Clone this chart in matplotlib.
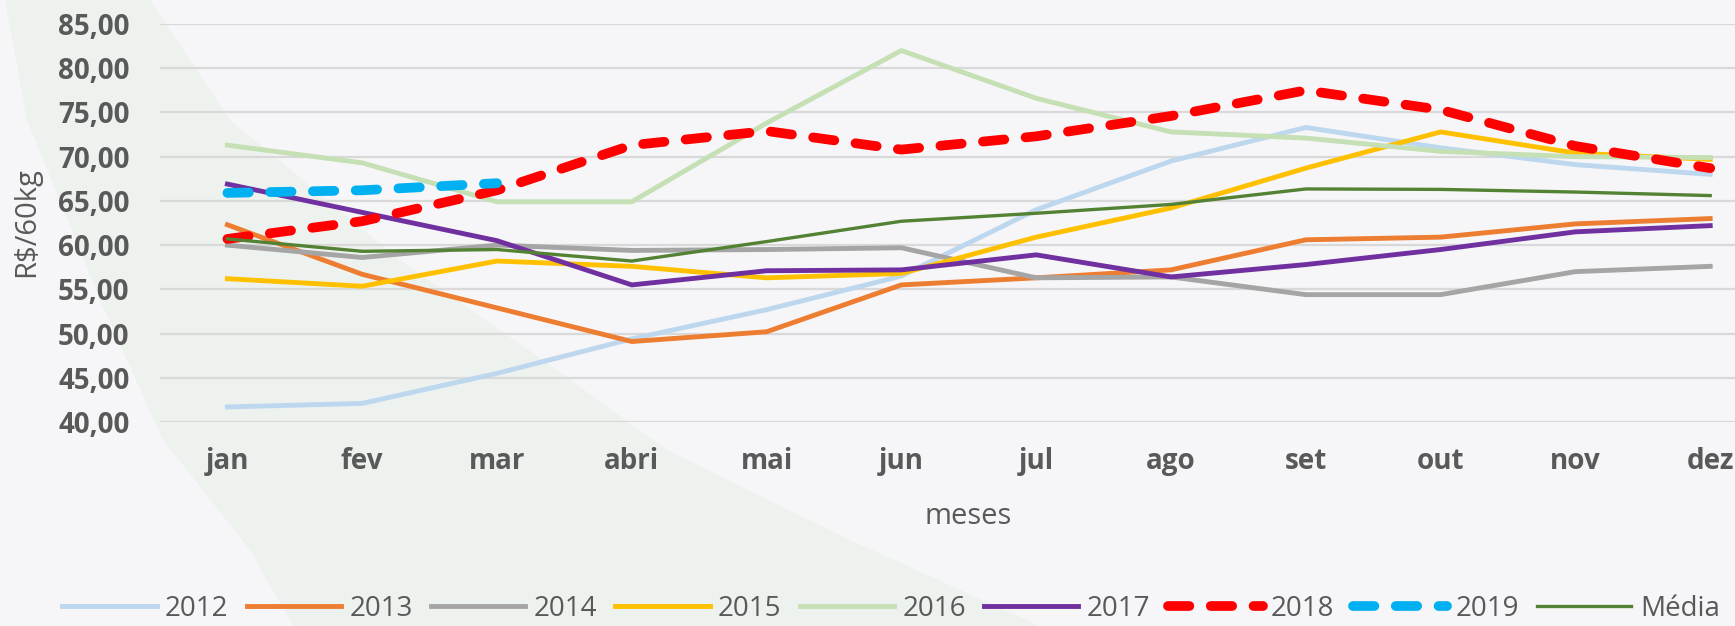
import numpy as np
from matplotlib import pyplot as plt
from matplotlib.patches import Polygon

plt.rcParams['font.family'] = ['Open Sans', 'DejaVu Sans']

meses = ['jan', 'fev', 'mar', 'abri', 'mai', 'jun', 'jul', 'ago', 'set', 'out', 'nov', 'dez']

v2012 = [41.7, 42.1, 45.5, 49.4, 52.7, 56.5, 64.0, 69.5, 73.3, 71.0, 69.1, 68.0]
v2013 = [62.3, 56.7, 52.9, 49.1, 50.2, 55.5, 56.3, 57.2, 60.6, 60.9, 62.4, 63.0]
v2014 = [60.0, 58.6, 60.0, 59.4, 59.5, 59.7, 56.3, 56.4, 54.4, 54.4, 57.0, 57.6]
v2015 = [56.2, 55.35, 58.2, 57.6, 56.3, 56.8, 60.9, 64.2, 68.7, 72.8, 70.4, 69.7]
v2016 = [71.3, 69.3, 64.9, 64.9, 73.8, 82.0, 76.6, 72.8, 72.1, 70.6, 70.0, 69.9]
v2017 = [66.9, 63.7, 60.5, 55.5, 57.1, 57.2, 58.9, 56.4, 57.8, 59.5, 61.5, 62.2]
v2018 = [60.7, 62.7, 66.2, 71.3, 72.9, 70.8, 72.3, 74.6, 77.5, 75.3, 71.2, 68.7]
v2019 = [65.9, 66.2, 67.0]
media = [60.7, 59.3, 59.5, 58.2, 60.4, 62.7, 63.6, 64.6, 66.35, 66.3, 66.0, 65.6]

cinza = '#595959'
W, H = 1735, 626

fig = plt.figure(figsize=(W / 100, H / 100), dpi=100)
fig.patch.set_facecolor('#F6F6F8')

# faixa verde decorativa do fundo
esq = [(5, 0), (27, 120), (100, 300), (163, 440), (250, 550), (293, 626)]
dir_ = [(1040, 626), (850, 540), (667, 450), (550, 365), (400, 260), (230, 120), (150, 0)]
pts = [(x / W, 1 - y / H) for x, y in esq + dir_]
fundo = Polygon(pts, closed=True, transform=fig.transFigure,
                facecolor='#EEF2EF', edgecolor='none', zorder=-10)
fig.patches.append(fundo)

ax = fig.add_axes([160 / W, 1 - 422 / H, 12 * 134.8 / W, (422 - 24) / H])
ax.set_zorder(1)
ax.patch.set_alpha(0)

x = np.arange(len(meses))
ax.plot(x, v2012, color='#BDD7EE', lw=3.5, label='2012')
ax.plot(x, v2013, color='#ED7D31', lw=3.5, label='2013')
ax.plot(x, v2014, color='#A5A5A5', lw=3.5, label='2014')
ax.plot(x, v2015, color='#FFC000', lw=3.5, label='2015')
ax.plot(x, v2016, color='#C5E0B4', lw=3.5, label='2016')
ax.plot(x, v2017, color='#7030A0', lw=3.5, label='2017')
ax.plot(x, v2018, color='#FF0000', lw=7, dashes=(2.2, 2.2), dash_capstyle='round', label='2018')
ax.plot(x[:len(v2019)], v2019, color='#00B0F0', lw=7, dashes=(2.2, 2.2), dash_capstyle='round', label='2019')
ax.plot(x, media, color='#548235', lw=2.4, label='Média')

ax.set_xlim(-0.5, 11.5)
ax.set_ylim(40, 85)
yt = np.arange(40, 86, 5)
ax.set_yticks(yt)
ax.set_yticklabels([f'{v:.2f}'.replace('.', ',') for v in yt])
ax.set_xticks(x)
ax.set_xticklabels(meses)
ax.yaxis.grid(True, color='#D9D9D9', lw=1.6)
ax.set_axisbelow(True)
for s in ax.spines.values():
    s.set_visible(False)
ax.tick_params(axis='both', length=0, colors=cinza, labelsize=20)
ax.tick_params(axis='y', pad=22)
ax.tick_params(axis='x', pad=18)
for t in ax.get_xticklabels() + ax.get_yticklabels():
    t.set_fontweight('bold')

fig.text(27 / W, 1 - 222 / H, 'R$/60kg', rotation=90, ha='center', va='center',
         fontsize=21, color=cinza)
fig.text(968 / W, 1 - 516 / H, 'meses', ha='center', va='center', fontsize=21, color=cinza)

leg = fig.legend(loc='center', bbox_to_anchor=(891 / W, 1 - 609 / H), ncol=9, frameon=False,
                 fontsize=20, handlelength=3.4, handletextpad=0.3, columnspacing=0.65)
for t in leg.get_texts():
    t.set_color(cinza)

fig.savefig('out.png', dpi=100, facecolor=fig.get_facecolor())
